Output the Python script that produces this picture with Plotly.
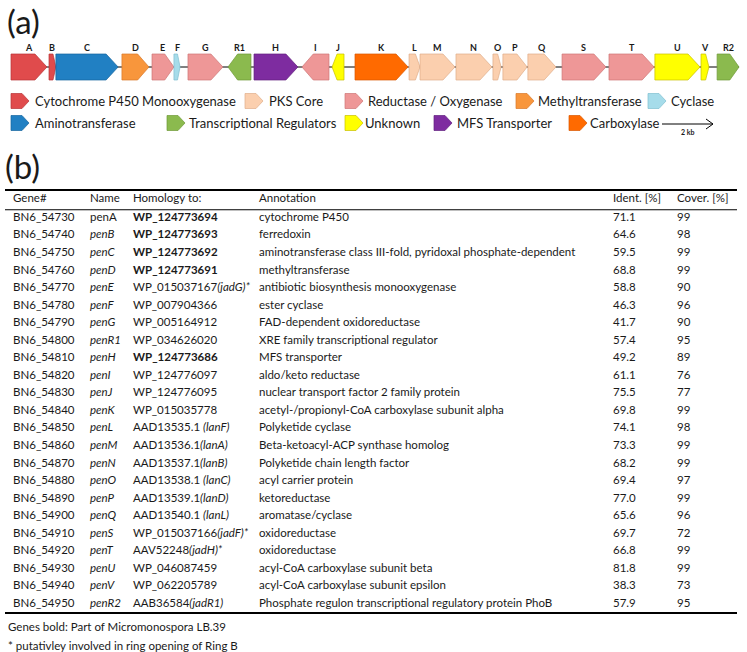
import plotly.graph_objects as go

# ---------------- DATA ----------------
gene_labels = ["A", "B", "C", "D", "E", "F", "G", "R1", "H", "I", "J", "K",
               "L", "M", "N", "O", "P", "Q", "S", "T", "U", "V", "R2"]
gene_start_kb = [0.00, 1.49, 1.76, 4.35, 5.53, 6.39, 6.94, 8.51, 9.53, 11.41, 12.59, 13.49,
                 15.61, 16.04, 17.45, 18.90, 19.29, 20.27, 21.61, 23.45, 25.25, 27.06, 27.69]
gene_end_kb = [1.41, 1.76, 4.20, 5.41, 6.39, 6.63, 8.31, 9.41, 11.25, 12.47, 13.06, 15.57,
               16.04, 17.41, 18.86, 19.22, 20.24, 21.37, 23.33, 25.22, 27.02, 27.37, 28.55]
gene_strand = [1, 1, 1, 1, 1, 1, 1, -1, 1, -1, -1, 1,
               1, 1, 1, 1, 1, 1, 1, 1, 1, 1, 1]
gene_category = ["Cytochrome P450 Monooxygenase", "Cytochrome P450 Monooxygenase", "Aminotransferase",
                 "Methyltransferase", "Reductase / Oxygenase", "Cyclase", "Reductase / Oxygenase",
                 "Transcriptional Regulators", "MFS Transporter", "Reductase / Oxygenase", "Unknown",
                 "Carboxylase", "PKS Core", "PKS Core", "PKS Core", "PKS Core", "PKS Core", "PKS Core",
                 "Reductase / Oxygenase", "Reductase / Oxygenase", "Unknown", "Unknown",
                 "Transcriptional Regulators"]

legend_row1 = ["Cytochrome P450 Monooxygenase", "PKS Core", "Reductase / Oxygenase",
               "Methyltransferase", "Cyclase"]
legend_row2 = ["Aminotransferase", "Transcriptional Regulators", "Unknown",
               "MFS Transporter", "Carboxylase"]
scale_bar_kb = 2

table_header = ["Gene#", "Name", "Homology to:", "Annotation", "Ident. [%]", "Cover. [%]"]
gene_ids = ["BN6_54730", "BN6_54740", "BN6_54750", "BN6_54760", "BN6_54770", "BN6_54780",
            "BN6_54790", "BN6_54800", "BN6_54810", "BN6_54820", "BN6_54830", "BN6_54840",
            "BN6_54850", "BN6_54860", "BN6_54870", "BN6_54880", "BN6_54890", "BN6_54900",
            "BN6_54910", "BN6_54920", "BN6_54930", "BN6_54940", "BN6_54950"]
gene_names = ["penA", "penB", "penC", "penD", "penE", "penF", "penG", "penR1", "penH", "penI",
              "penJ", "penK", "penL", "penM", "penN", "penO", "penP", "penQ", "penS", "penT",
              "penU", "penV", "penR2"]
name_italic = [False] + [True] * 22
homology_acc = ["WP_124773694", "WP_124773693", "WP_124773692", "WP_124773691", "WP_015037167",
                "WP_007904366", "WP_005164912", "WP_034626020", "WP_124773686", "WP_124776097",
                "WP_124776095", "WP_015035778", "AAD13535.1", "AAD13536.1", "AAD13537.1",
                "AAD13538.1", "AAD13539.1", "AAD13540.1", "WP_015037166", "AAV52248",
                "WP_046087459", "WP_062205789", "AAB36584"]
homology_tag = ["", "", "", "", "(jadG)*", "", "", "", "", "", "", "",
                " (lanF)", "(lanA)", "(lanB)", " (lanC)", "(lanD)", " (lanL)", "(jadF)*",
                "(jadH)*", "", "", "(jadR1)"]
in_lb39 = [True, True, True, True, False, False, False, False, True, False, False, False,
           False, False, False, False, False, False, False, False, False, False, False]
annotation = ["cytochrome P450", "ferredoxin",
              "aminotransferase class III-fold, pyridoxal phosphate-dependent",
              "methyltransferase", "antibiotic biosynthesis monooxygenase", "ester cyclase",
              "FAD-dependent oxidoreductase", "XRE family transcriptional regulator",
              "MFS transporter", "aldo/keto reductase", "nuclear transport factor 2 family protein",
              "acetyl-/propionyl-CoA carboxylase subunit alpha", "Polyketide cyclase",
              "Beta-ketoacyl-ACP synthase homolog", "Polyketide chain length factor",
              "acyl carrier protein", "ketoreductase", "aromatase/cyclase", "oxidoreductase",
              "oxidoreductase", "acyl-CoA carboxylase subunit beta",
              "acyl-CoA carboxylase subunit epsilon",
              "Phosphate regulon transcriptional regulatory protein PhoB"]
identity = [71.1, 64.6, 59.5, 68.8, 58.8, 46.3, 41.7, 57.4, 49.2, 61.1, 75.5, 69.8,
            74.1, 73.3, 68.2, 69.4, 77.0, 65.6, 69.7, 66.8, 81.8, 38.3, 57.9]
coverage = [99, 98, 99, 99, 90, 96, 90, 95, 89, 76, 77, 99,
            98, 99, 99, 97, 99, 96, 72, 99, 99, 73, 95]
footnotes = ["Genes bold: Part of Micromonospora LB.39",
             "* putativley involved in ring opening of Ring B"]

# ---------------- STYLE ----------------
W, H = 747, 652
FONT = "Lato"
TXT = "#1a1a1a"
colors = {
    "Cytochrome P450 Monooxygenase": ("#E04B4C", "#B83436"),
    "PKS Core": ("#FBCFAE", "#E0AE8A"),
    "Reductase / Oxygenase": ("#EE9797", "#CF7575"),
    "Methyltransferase": ("#F8963C", "#D9792A"),
    "Cyclase": ("#A6DCEA", "#7FBFD0"),
    "Aminotransferase": ("#2180C3", "#16649E"),
    "Transcriptional Regulators": ("#8BBA4E", "#6E9A38"),
    "Unknown": ("#FFFF00", "#C8C000"),
    "MFS Transporter": ("#7E2CA0", "#62207E"),
    "Carboxylase": ("#FF6A00", "#D95700"),
}
px_per_kb = 25.5
map_left_px = 11
gene_yc, gene_h = 67, 26
label_y = 47.5
fig = go.Figure()

x_range_kb = [-map_left_px / px_per_kb, (W - map_left_px) / px_per_kb]

# backbone
fig.add_trace(go.Scatter(x=[min(gene_start_kb), max(gene_end_kb)], y=[gene_yc, gene_yc],
                         mode="lines", line=dict(color="black", width=1),
                         xaxis="x", yaxis="y", hoverinfo="skip", showlegend=False))

for lab, s, e, st, cat in zip(gene_labels, gene_start_kb, gene_end_kb, gene_strand, gene_category):
    length = e - s
    tip = min(12 / px_per_kb, 0.42 * length)
    top, bot = gene_yc - gene_h / 2, gene_yc + gene_h / 2
    if st > 0:
        xs = [s, e - tip, e, e - tip, s, s]
    else:
        xs = [e, s + tip, s, s + tip, e, e]
    ys = [top, top, gene_yc, bot, bot, top]
    fill, edge = colors[cat]
    fig.add_trace(go.Scatter(x=xs, y=ys, mode="lines", fill="toself", fillcolor=fill,
                             line=dict(color=edge, width=0.7), xaxis="x", yaxis="y",
                             hoverinfo="text", text=f"{lab}: {cat}", showlegend=False))
    fig.add_annotation(x=(s + e) / 2, y=label_y, xref="x", yref="y", text=f"<b>{lab}</b>",
                       showarrow=False, font=dict(family=FONT, size=9, color=TXT),
                       xanchor="center", yanchor="middle")

# custom legend (pixel coordinates on x2/y)
leg_icon_x = [[11, 245, 345, 516, 648], [11, 167, 345, 434, 569]]
leg_text_x = [[33, 267, 366, 536, 669], [33, 187, 363, 455, 588]]
leg_y = [101, 123]
icon_w, icon_h, icon_tip = 18, 15, 7
for r, row in enumerate([legend_row1, legend_row2]):
    for i, cat in enumerate(row):
        x0 = leg_icon_x[r][i]
        yc = leg_y[r]
        fill, edge = colors[cat]
        xs = [x0, x0 + icon_w - icon_tip, x0 + icon_w, x0 + icon_w - icon_tip, x0, x0]
        ys = [yc - icon_h / 2, yc - icon_h / 2, yc, yc + icon_h / 2, yc + icon_h / 2, yc - icon_h / 2]
        fig.add_trace(go.Scatter(x=xs, y=ys, mode="lines", fill="toself", fillcolor=fill,
                                 line=dict(color=edge, width=0.7), xaxis="x2", yaxis="y",
                                 hoverinfo="skip", showlegend=False))
        fig.add_annotation(x=leg_text_x[r][i], y=yc, xref="x2", yref="y", text=cat,
                           showarrow=False, xanchor="left", yanchor="middle",
                           font=dict(family=FONT, size=13, color=TXT))

# scale bar
sb_x0 = 662
sb_x1 = sb_x0 + scale_bar_kb * px_per_kb
sb_y = 124
fig.add_trace(go.Scatter(x=[sb_x0, sb_x1, None, sb_x1 - 7, sb_x1, sb_x1 - 7],
                         y=[sb_y, sb_y, None, sb_y - 5, sb_y, sb_y + 5],
                         mode="lines", line=dict(color="black", width=1),
                         xaxis="x2", yaxis="y", hoverinfo="skip", showlegend=False))
fig.add_annotation(x=(sb_x0 + sb_x1) / 2, y=132, xref="x2", yref="y",
                   text=f"<b>{scale_bar_kb} kb</b>", showarrow=False,
                   font=dict(family=FONT, size=7, color=TXT))

# panel labels
fig.add_annotation(x=5, y=21, xref="x2", yref="y", text="(a)", showarrow=False,
                   xanchor="left", yanchor="middle", font=dict(family=FONT, size=33, color=TXT))
fig.add_annotation(x=3, y=166, xref="x2", yref="y", text="(b)", showarrow=False,
                   xanchor="left", yanchor="middle", font=dict(family=FONT, size=33, color=TXT))

# ---------------- TABLE (x2 pixels, y2 row index) ----------------
row0_px, row_px = 218, 17.55
y2_range = [(H - row0_px) / row_px, (0 - row0_px) / row_px]
col_x = [13, 90, 133, 259, 613, 677]
n = len(gene_ids)
rows = list(range(n))
tfont = dict(family=FONT, size=11.5, color=TXT)

names_fmt = [f"<i>{nm}</i>" if it else nm for nm, it in zip(gene_names, name_italic)]
hom_fmt = []
for acc, tag, b in zip(homology_acc, homology_tag, in_lb39):
    a = f"<b>{acc}</b>" if b else acc
    if tag:
        lead = " " if tag.startswith(" ") else ""
        a += lead + f"<i>{tag.strip()}</i>"
    hom_fmt.append(a)
columns = [gene_ids, names_fmt, hom_fmt, annotation,
           [f"{v:.1f}" for v in identity], [str(v) for v in coverage]]
for cx, vals in zip(col_x, columns):
    fig.add_trace(go.Scatter(x=[cx] * n, y=rows, mode="text", text=vals,
                             textposition="middle right", textfont=tfont,
                             xaxis="x2", yaxis="y2", hoverinfo="skip", showlegend=False))
header_row = -1.05
fig.add_trace(go.Scatter(x=col_x, y=[header_row] * len(col_x), mode="text", text=table_header,
                         textposition="middle right", textfont=tfont,
                         xaxis="x2", yaxis="y2", hoverinfo="skip", showlegend=False))
foot_rows = [n + 0.35, n + 1.45]
fig.add_trace(go.Scatter(x=[col_x[0] - 5] * 2, y=foot_rows, mode="text", text=footnotes,
                         textposition="middle right", textfont=tfont,
                         xaxis="x2", yaxis="y2", hoverinfo="skip", showlegend=False))
tab_x0, tab_x1 = 5, 737
for yv, w in [(-1.6, 2), (-0.47, 1), (n - 0.5, 2)]:
    fig.add_shape(type="line", x0=tab_x0, x1=tab_x1, y0=yv, y1=yv, xref="x2", yref="y2",
                  line=dict(color="black", width=w))

fig.update_layout(
    width=W, height=H, margin=dict(l=0, r=0, t=0, b=0),
    paper_bgcolor="white", plot_bgcolor="white", showlegend=False,
    xaxis=dict(range=x_range_kb, visible=False, domain=[0, 1], fixedrange=True),
    xaxis2=dict(range=[0, W], visible=False, overlaying="x", domain=[0, 1], fixedrange=True),
    yaxis=dict(range=[H, 0], visible=False, domain=[0, 1], fixedrange=True),
    yaxis2=dict(range=y2_range, visible=False, overlaying="y", domain=[0, 1], fixedrange=True),
)
fig.write_html("out.html", config={"displayModeBar": False},
               post_script="document.body.style.margin='0px';")
